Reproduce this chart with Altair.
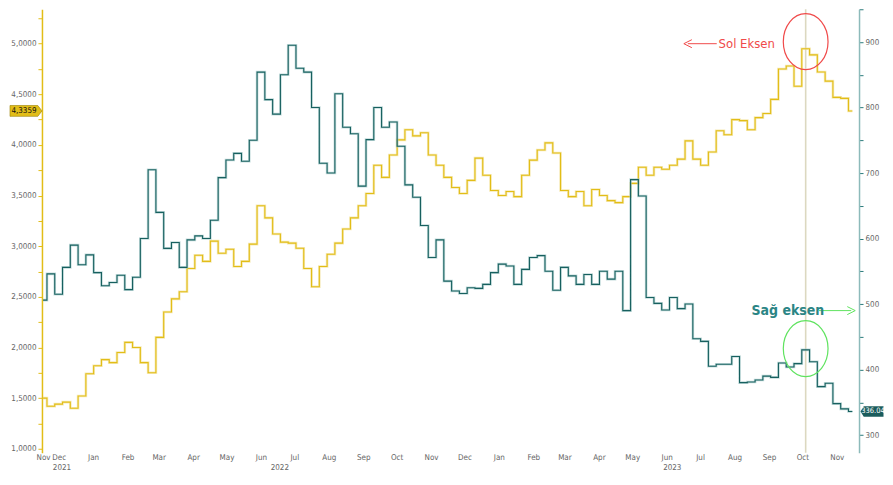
import altair as alt
import pandas as pd

# ---------------- data (weekly readings) ----------------
start_date = "2021-11-17"
yellow = [1.50, 1.42, 1.44, 1.46, 1.40, 1.52, 1.74, 1.82, 1.88, 1.85,
          1.95, 2.05, 2.00, 1.85, 1.75, 2.10, 2.35, 2.48, 2.55, 2.78,
          2.91, 2.85, 3.05, 2.93, 2.97, 2.80, 2.85, 3.02, 3.40, 3.28,
          3.12, 3.04, 3.03, 2.98, 2.78, 2.60, 2.80, 2.92, 3.03, 3.17,
          3.28, 3.40, 3.52, 3.80, 3.68, 3.90, 4.05, 4.15, 4.09, 4.12,
          3.90, 3.80, 3.68, 3.58, 3.52, 3.65, 3.87, 3.70, 3.55, 3.50,
          3.54, 3.49, 3.70, 3.85, 3.95, 4.02, 3.92, 3.55, 3.49, 3.54,
          3.40, 3.56, 3.50, 3.45, 3.43, 3.49, 3.62, 3.78, 3.70, 3.78,
          3.76, 3.80, 3.86, 4.04, 3.86, 3.80, 3.93, 4.14, 4.10, 4.25,
          4.24, 4.15, 4.27, 4.31, 4.45, 4.75, 4.78, 4.58, 4.95, 4.89,
          4.72, 4.63, 4.47, 4.46, 4.3359]
teal = [506, 546, 515, 556, 590, 560, 575, 548, 528, 533,
        544, 522, 541, 600, 705, 640, 585, 594, 556, 598,
        604, 600, 628, 693, 720, 730, 718, 750, 854, 812,
        790, 850, 895, 860, 854, 800, 715, 700, 821, 770,
        760, 680, 751, 800, 770, 778, 741, 682, 663, 620,
        571, 598, 535, 520, 516, 525, 524, 530, 548, 561,
        558, 530, 553, 571, 574, 550, 521, 556, 543, 530,
        545, 530, 550, 538, 550, 490, 690, 665, 510, 501,
        491, 510, 493, 500, 447, 443, 405, 408, 408, 420,
        380, 381, 384, 390, 388, 410, 404, 409, 430, 412,
        374, 379, 348, 340, 336.04]

left_tag_label = ["4,3359"]
right_tag_label = ["336.04"]

month_ticks = [(2021, 11, 17)] + [(2021, 12, 1)] + \
    [(y, m, 1) for y in (2022, 2023) for m in range(1, 13) if not (y == 2023 and m == 12)]
year_dates = ["2021-12-04", "2022-06-18", "2023-06-06"]
year_labels = ["2021", "2022", "2023"]

left_ticks = [1.0, 1.25, 1.5, 1.75, 2.0, 2.25, 2.5, 2.75, 3.0, 3.25, 3.5, 3.75,
              4.0, 4.25, 4.5, 4.75, 5.0, 5.25]
right_ticks = [300, 350, 400, 450, 500, 550, 600, 650, 700, 750, 800, 850, 900, 950]

marker_date = ["2023-10-04"]
sol_text = ["Sol Eksen"]
sol_text_date = ["2023-08-12"]
sol_level = [5.0]
sol_arrow = (["2023-06-20"], ["2023-07-16"])
sol_circle_level = [5.02]
sag_text = ["Sağ eksen"]
sag_text_date = ["2023-09-18"]
sag_level = [490]
sag_arrow = (["2023-10-16"], ["2023-11-14"])
sag_circle_level = [432]

# ---------------- styling ----------------
W, H = 818, 444
FONT = "Liberation Sans Narrow, DejaVu Sans Condensed, sans-serif"
YEL = "#e2bd17"
YEL_HALO = "#f0dc86"
TEAL = "#17605f"
TEAL_HALO = "#9cc4c4"
RED = "#f04a4a"
GREEN = "#5fe35f"
LABEL = "#666666"

dates = pd.date_range(start_date, periods=len(yellow), freq="7D").strftime("%Y-%m-%d").tolist()
df = pd.DataFrame({"date": dates, "y": yellow, "t": teal})

xscale = alt.Scale(type="utc", domain=[alt.DateTime(year=2021, month=11, date=16, utc=True),
                                       alt.DateTime(year=2023, month=11, date=21, utc=True)])
xaxis = alt.Axis(values=[alt.DateTime(year=y, month=m, date=d, utc=True) for (y, m, d) in month_ticks],
                 labelExpr="utcFormat(datum.value, '%b')", domain=False, ticks=False,
                 labelColor=LABEL, labelFont=FONT, labelFontSize=8, labelPadding=1,
                 title=None, grid=False, labelOverlap=False, labelFlush=False)


def X(field):
    return alt.X(f"{field}:T", scale=xscale, axis=xaxis)


lscale = alt.Scale(domain=[0.96, 5.34], nice=False, zero=False)
laxis = alt.Axis(orient="left", values=left_ticks,
                 labelExpr="abs(datum.value*2 - round(datum.value*2)) < 0.01 ? replace(format(datum.value, '.4f'), '.', ',') : ''",
                 domainColor=YEL, domainWidth=1.5, tickColor=YEL, tickSize=4, tickWidth=1,
                 labelColor=LABEL, labelFont=FONT, labelFontSize=8, labelPadding=2,
                 grid=False, title=None)
rscale = alt.Scale(domain=[273, 950], nice=False, zero=False)
raxis = alt.Axis(orient="right", values=right_ticks,
                 labelExpr="datum.value % 100 == 0 ? format(datum.value, 'd') : ''",
                 domainColor="#8dbaba", domainWidth=1.5, tickColor="#2a7a7a", tickSize=4, tickWidth=1,
                 labelColor=LABEL, labelFont=FONT, labelFontSize=8, labelPadding=2,
                 grid=False, title=None)


def YL(field):
    return alt.Y(f"{field}:Q", scale=lscale, axis=laxis)


def YR(field):
    return alt.Y(f"{field}:Q", scale=rscale, axis=raxis)


ELLIPSE = "M -0.8,0 A 0.8,1 0 1,1 0.8,0 A 0.8,1 0 1,1 -0.8,0 Z"
HEAD_LEFT = "M 1,-1 L -1,0 L 1,1"
HEAD_RIGHT = "M -1,-1 L 1,0 L -1,1"
TAG_RIGHTPOINT = "M -1,-0.34 L 0.74,-0.34 L 1,0 L 0.74,0.34 L -1,0.34 Z"
TAG_LEFTPOINT = "M 1,-0.45 L -0.72,-0.45 L -1,0 L -0.72,0.45 L 1,0.45 Z"

# ---------------- left (yellow) group ----------------
yellow_halo = alt.Chart(df).mark_line(color=YEL_HALO, strokeWidth=2.6, opacity=0.6, interpolate="step").encode(
    x=X("date"), y=YL("y"))
yellow_line = alt.Chart(df).mark_line(color=YEL, strokeWidth=1.1, interpolate="step").encode(
    x=X("date"), y=YL("y"))

vline = alt.Chart(pd.DataFrame({"date": marker_date})).mark_rule(color="#dcd8c0", strokeWidth=1.6).encode(
    x=X("date"))

ltag = pd.DataFrame({"v": [yellow[-1]], "label": left_tag_label})
ltag_box = alt.Chart(ltag).mark_point(shape=TAG_RIGHTPOINT, filled=True, fill=YEL, size=1024,
                                      opacity=1, stroke="#9a8200", strokeWidth=0.6).encode(
    x=alt.value(-16), y=YL("v"))
ltag_txt = alt.Chart(ltag).mark_text(font=FONT, fontSize=8, color="#111111").encode(
    x=alt.value(-18), y=YL("v"), text="label:N")

sol_df = pd.DataFrame({"date": sol_text_date, "v": sol_level, "label": sol_text})
sol_txt = alt.Chart(sol_df).mark_text(font=FONT, fontSize=13, color=RED).encode(
    x=X("date"), y=YL("v"), text="label:N")
sol_ar = pd.DataFrame({"a": sol_arrow[0], "b": sol_arrow[1], "v": sol_level})
sol_line = alt.Chart(sol_ar).mark_rule(color=RED, strokeWidth=1).encode(
    x=X("a"), x2="b:T", y=YL("v"))
sol_head = alt.Chart(sol_ar).mark_point(shape=HEAD_LEFT, filled=False, color=RED, size=64,
                                        strokeWidth=1, opacity=1).encode(x=X("a"), y=YL("v"))
sol_circ = alt.Chart(pd.DataFrame({"date": marker_date, "v": sol_circle_level})).mark_point(
    shape=ELLIPSE, filled=False, color=RED, size=3136, strokeWidth=1.2, opacity=1).encode(
    x=X("date"), y=YL("v"))

years = alt.Chart(pd.DataFrame({"date": year_dates, "label": year_labels})).mark_text(
    font=FONT, fontSize=8, color=LABEL, baseline="top").encode(
    x=X("date"), y=alt.value(H + 11), text="label:N")

left = alt.layer(vline, yellow_halo, yellow_line, sol_circ, sol_line, sol_head, sol_txt,
                 ltag_box, ltag_txt, years)

# ---------------- right (teal) group ----------------
teal_halo = alt.Chart(df).mark_line(color=TEAL_HALO, strokeWidth=2.6, opacity=0.6, interpolate="step").encode(
    x=X("date"), y=YR("t"))
teal_line = alt.Chart(df).mark_line(color=TEAL, strokeWidth=1.1, interpolate="step").encode(
    x=X("date"), y=YR("t"))

rtag = pd.DataFrame({"v": [teal[-1]], "label": right_tag_label})
rtag_box = alt.Chart(rtag).mark_point(shape=TAG_LEFTPOINT, filled=True, fill="#1b5c5c", size=529,
                                      opacity=1, strokeWidth=0).encode(
    x=alt.value(W + 13), y=YR("v"))
rtag_txt = alt.Chart(rtag).mark_text(font=FONT, fontSize=7.5, color="#ffffff").encode(
    x=alt.value(W + 14), y=YR("v"), text="label:N")

sag_df = pd.DataFrame({"date": sag_text_date, "v": sag_level, "label": sag_text})
sag_txt = alt.Chart(sag_df).mark_text(font=FONT, fontSize=14, fontWeight="bold", color="#2b8585").encode(
    x=X("date"), y=YR("v"), text="label:N")
sag_ar = pd.DataFrame({"a": sag_arrow[0], "b": sag_arrow[1], "v": sag_level})
sag_line = alt.Chart(sag_ar).mark_rule(color=GREEN, strokeWidth=1).encode(
    x=X("a"), x2="b:T", y=YR("v"))
sag_head = alt.Chart(sag_ar).mark_point(shape=HEAD_RIGHT, filled=False, color=GREEN, size=64,
                                        strokeWidth=1, opacity=1).encode(x=X("b"), y=YR("v"))
sag_circ = alt.Chart(pd.DataFrame({"date": marker_date, "v": sag_circle_level})).mark_point(
    shape=ELLIPSE, filled=False, color=GREEN, size=3136, strokeWidth=1.2, opacity=1).encode(
    x=X("date"), y=YR("v"))

right = alt.layer(teal_halo, teal_line, sag_circ, sag_line, sag_head, sag_txt, rtag_box, rtag_txt)

chart = alt.layer(left, right).resolve_scale(y="independent").properties(
    width=W, height=H, padding={"left": 0, "top": 0, "right": 0, "bottom": 0},
    background="white"
).configure_view(stroke=None)

chart.save("out.html", embed_options={"renderer": "svg", "actions": False})
